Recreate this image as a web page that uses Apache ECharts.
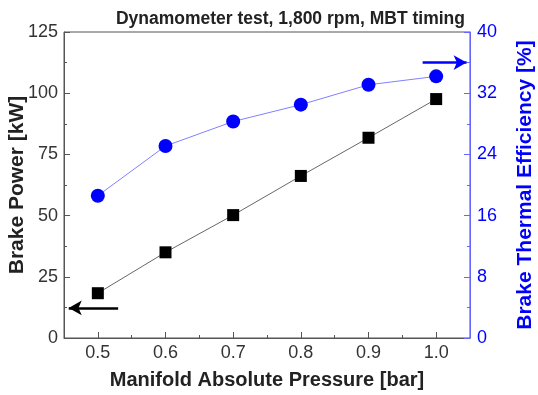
<!DOCTYPE html>
<html>
<head>
<meta charset="utf-8">
<script src="https://cdn.jsdelivr.net/npm/echarts@6/dist/echarts.min.js"></script>
<style>
  html, body { margin: 0; padding: 0; background: #fff; }
  #main { width: 538px; height: 395px; }
</style>
</head>
<body>
<div id="main"></div>
<script>
// 数据
var pressure = [0.5, 0.6, 0.7, 0.8, 0.9, 1.0];
var brakePower = [18.3, 35.0, 50.2, 66.2, 81.8, 97.6];
var thermalEff = [18.6, 25.1, 28.3, 30.5, 33.1, 34.2];
var xMajorTicks = [0.5, 0.6, 0.7, 0.8, 0.9, 1.0];
var xMinorTicks = [0.55, 0.65, 0.75, 0.85, 0.95];

var fontFam = '"Liberation Sans", Arial, sans-serif';

var chart = echarts.init(document.getElementById('main'));

var option = {
  animation: false,
  textStyle: { fontFamily: fontFam },
  title: {
    text: 'Dynamometer test, 1,800 rpm, MBT timing',
    right: 68,
    top: 5,
    textStyle: { fontSize: 17.5, fontWeight: 'bold', color: '#222', fontFamily: fontFam }
  },
  grid: {
    left: 64, right: 68, top: 32, bottom: 57,
    outerBoundsMode: 'none', containLabel: false,
    show: true, borderColor: '#555', borderWidth: 1
  },
  xAxis: [
    {
      type: 'value', min: 0.45, max: 1.05,
      name: 'Manifold Absolute Pressure [bar]',
      nameLocation: 'middle', nameGap: 32, nameMoveOverlap: false,
      nameTextStyle: { fontSize: 20, fontWeight: 'bold', color: '#222' },
      axisLine: { lineStyle: { color: '#555' } },
      axisTick: { inside: true, length: 6, customValues: xMajorTicks, lineStyle: { color: '#555' } },
      axisLabel: { customValues: xMajorTicks, fontSize: 18, color: '#333', margin: 6,
        formatter: function (v) { return v.toFixed(1); } },
      splitLine: { show: false }
    },
    {
      type: 'value', min: 0.45, max: 1.05, position: 'bottom',
      axisLine: { show: false },
      axisTick: { inside: true, length: 3, customValues: xMinorTicks, lineStyle: { color: '#555' } },
      axisLabel: { show: false },
      splitLine: { show: false }
    }
  ],
  yAxis: [
    {
      type: 'value', min: 0, max: 125, interval: 25, position: 'left',
      name: 'Brake Power [kW]',
      nameLocation: 'middle', nameGap: 36, nameMoveOverlap: false,
      nameTextStyle: { fontSize: 21, fontWeight: 'bold', color: '#222' },
      axisLine: { show: true, lineStyle: { color: '#555' } },
      axisTick: { show: true, inside: true, length: 6, lineStyle: { color: '#555' } },
      minorTick: { show: true, splitNumber: 2, length: 3, lineStyle: { color: '#555' } },
      axisLabel: { fontSize: 18, color: '#333', margin: 6 },
      splitLine: { show: false }
    },
    {
      type: 'value', min: 0, max: 40, interval: 8, position: 'right',
      name: 'Brake Thermal Efficiency [%]',
      nameLocation: 'middle', nameGap: 45, nameRotate: 90, nameMoveOverlap: false,
      nameTextStyle: { fontSize: 21, fontWeight: 'bold', color: '#0000ff' },
      axisLine: { show: true, lineStyle: { color: '#6666ff' } },
      axisTick: { show: true, inside: true, length: 6, lineStyle: { color: '#6666ff' } },
      minorTick: { show: true, splitNumber: 2, length: 3, lineStyle: { color: '#6666ff' } },
      axisLabel: { fontSize: 18, color: '#0000ff', margin: 7 },
      splitLine: { show: false }
    }
  ],
  series: [
    {
      name: 'Brake Power',
      type: 'line',
      xAxisIndex: 0, yAxisIndex: 0,
      data: pressure.map(function (p, i) { return [p, brakePower[i]]; }),
      symbol: 'rect', symbolSize: 12,
      itemStyle: { color: '#000' },
      lineStyle: { color: '#666', width: 1 },
      markLine: {
        silent: true,
        symbol: ['none', 'arrow'], symbolSize: [11, 13],
        label: { show: false },
        lineStyle: { color: '#000', width: 2.5, type: 'solid' },
        data: [[{ coord: [0.53, 12.3] }, { coord: [0.457, 12.3] }]]
      }
    },
    {
      name: 'Brake Thermal Efficiency',
      type: 'line',
      xAxisIndex: 0, yAxisIndex: 1,
      data: pressure.map(function (p, i) { return [p, thermalEff[i]]; }),
      symbol: 'circle', symbolSize: 14,
      itemStyle: { color: '#0000ff' },
      lineStyle: { color: '#8080ff', width: 1 },
      markLine: {
        silent: true,
        symbol: ['none', 'arrow'], symbolSize: [11, 13],
        label: { show: false },
        lineStyle: { color: '#0000ff', width: 2.5, type: 'solid' },
        data: [[{ coord: [0.98, 36] }, { coord: [1.045, 36] }]]
      }
    }
  ]
};

chart.setOption(option);
</script>
</body>
</html>
